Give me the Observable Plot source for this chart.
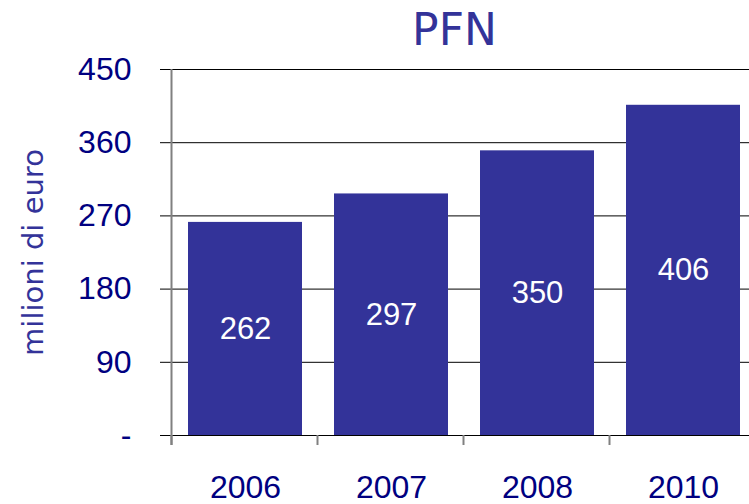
<!DOCTYPE html>
<html>
<head>
<meta charset="utf-8">
<script src="https://cdn.jsdelivr.net/npm/d3@7"></script>
<script src="https://cdn.jsdelivr.net/npm/@observablehq/plot@0.6"></script>
<style>
  html, body { margin: 0; padding: 0; background: #fff; }
  #title { margin-left: 160px; width: 589px; height: 60px; line-height: 60px; text-align: center;
           font-family: "DejaVu Sans", sans-serif; font-size: 44px; color: #333399; }
  svg { display: block; }
</style>
</head>
<body>
<div id="title">PFN</div>
<div id="chart"></div>
<script>
const years = ["2006", "2007", "2008", "2010"];
const values = [262, 297, 350, 406];
const yTicks = [0, 90, 180, 270, 360, 450];
const yLabel = "milioni di euro";

const data = years.map((y, i) => ({year: y, value: values[i]}));

const chart = Plot.plot({
  width: 749,
  height: 444,
  marginTop: 9,
  marginBottom: 69,
  marginLeft: 160,
  marginRight: 0,
  style: {background: "#fff", overflow: "visible"},
  x: {type: "band", domain: years, range: [172, 756], paddingInner: 0.22, paddingOuter: 0.11, label: null},
  y: {domain: [0, 450], label: null},
  marks: [
    Plot.ruleY(yTicks, {stroke: "#000", strokeWidth: 1}),
    Plot.barY(data, {x: "year", y: "value", fill: "#333399"}),
    Plot.ruleY([0], {stroke: "#000", strokeWidth: 1}),
    Plot.ruleX([years[0]], {x: d => d, dx: -74, stroke: "#808080", strokeWidth: 2, insetBottom: -10}),
    Plot.ruleX(years, {x: d => d, dx: -74, stroke: "#808080", strokeWidth: 2, insetTop: 366, insetBottom: -10}),
    Plot.axisY({ticks: yTicks, tickSize: 0, tickPadding: 29, tickFormat: d => d === 0 ? "-" : String(d),
      fontSize: 32, fill: "#000080", fontFamily: "Liberation Sans, sans-serif", label: null}),
    Plot.axisX({tickSize: 0, tickPadding: 40, fontSize: 32, fill: "#000080",
      fontFamily: "Liberation Sans, sans-serif", label: null}),
    Plot.text(data, {x: "year", y: d => d.value / 2, text: d => String(d.value), fill: "#fff",
      fontSize: 31, fontFamily: "Liberation Sans, sans-serif"}),
    Plot.text([yLabel], {frameAnchor: "left", textAnchor: "middle", lineAnchor: "middle", text: d => d,
      rotate: -90, dx: -127, fill: "#333399", fontSize: 29, fontFamily: "DejaVu Sans, sans-serif"})
  ]
});
document.getElementById("chart").appendChild(chart);
</script>
</body>
</html>
